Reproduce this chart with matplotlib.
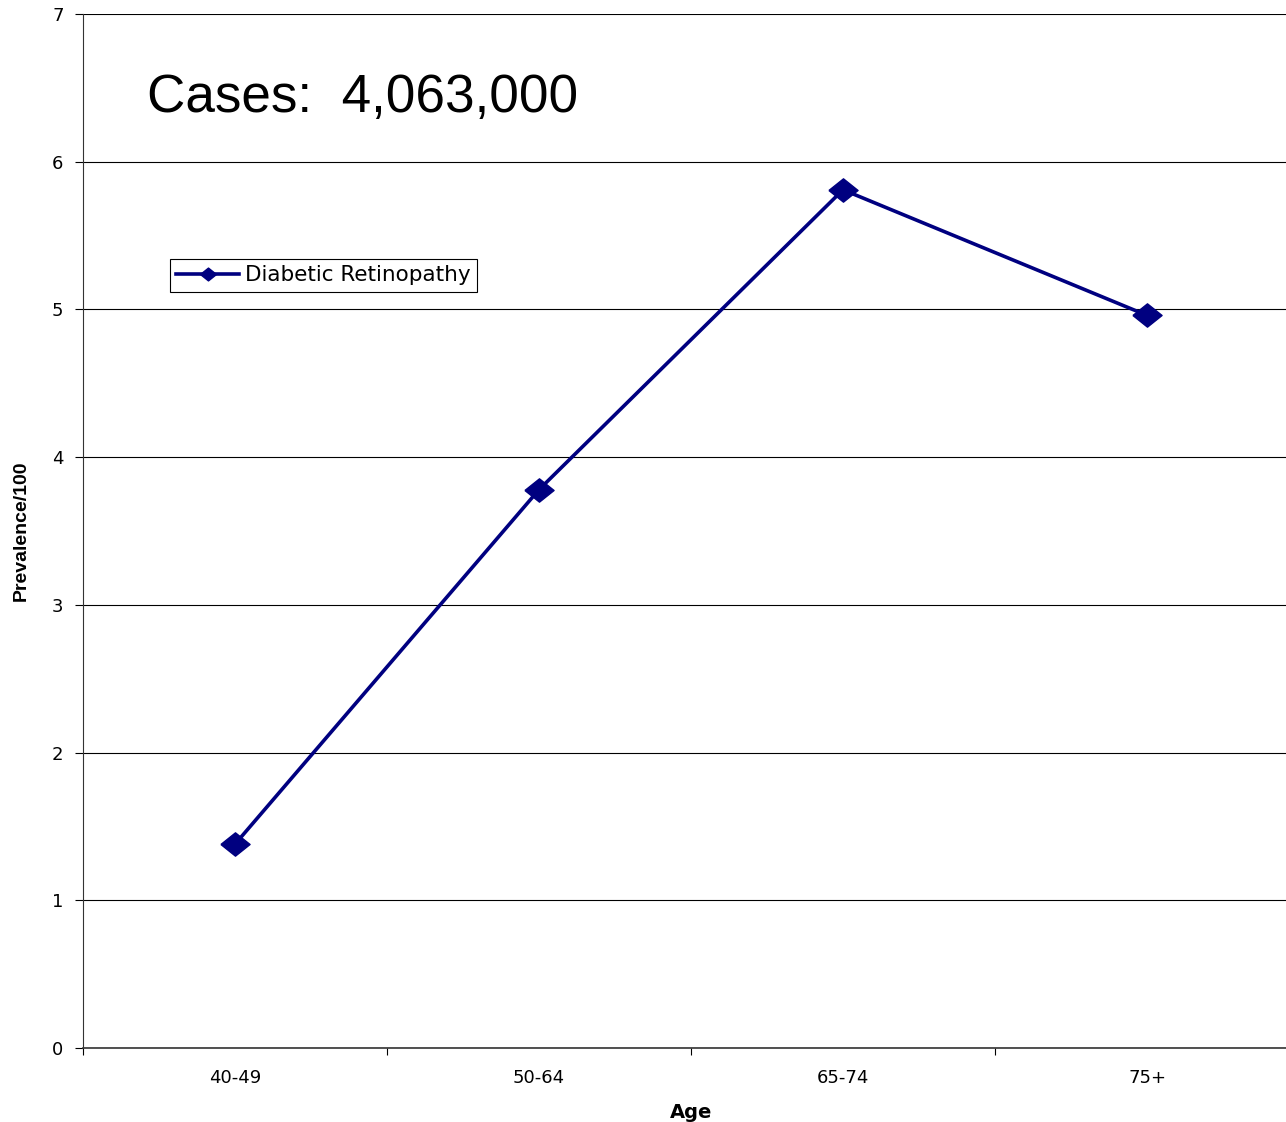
import numpy as np
import matplotlib.pyplot as plt

plt.rcParams['font.family'] = ['DejaVu Sans']

# prevalence per 100 by age group
age_groups = ['40-49', '50-64', '65-74', '75+']
prevalence = [1.38, 3.78, 5.81, 4.96]
total_cases = '4,063,000'

navy = '#000080'
# slightly flattened diamond, like the spreadsheet marker
diamond = [(-1.0, 0.0), (0.0, 0.8), (1.0, 0.0), (0.0, -0.8), (-1.0, 0.0)]

fig = plt.figure(figsize=(12.86, 11.22), dpi=100)
ax = fig.add_axes([83 / 1286, 74 / 1122, 1216 / 1286, 1034 / 1122])

x = np.arange(len(age_groups))
ax.plot(x, prevalence, color=navy, lw=2.6, marker=diamond, ms=21,
        mfc=navy, mec=navy, label='Diabetic Retinopathy', zorder=3)

ax.set_xlim(-0.5, len(age_groups) - 0.5)
ax.set_ylim(0, 7)
ax.set_yticks(range(0, 8))
ax.yaxis.grid(True, color='black', lw=0.8)
ax.set_axisbelow(True)

# category labels centred, tick marks between categories
ax.set_xticks(np.arange(-0.5, len(age_groups), 1.0))
ax.set_xticklabels([])
ax.set_xticks(x, minor=True)
ax.set_xticklabels(age_groups, minor=True)
ax.tick_params(axis='x', which='minor', length=0, pad=15, labelsize=13)
ax.tick_params(axis='x', which='major', length=5, direction='out')
ax.tick_params(axis='y', length=6, direction='out', pad=8, labelsize=13)

for s in ['top', 'right']:
    ax.spines[s].set_visible(False)
ax.spines['left'].set_color('#333333')
ax.spines['bottom'].set_color('#333333')
ax.spines['bottom'].set_linewidth(1.2)

ax.set_xlabel('Age', fontsize=14, fontweight='bold', labelpad=12)
ax.set_ylabel('Prevalence/100', fontsize=14, fontweight='bold', labelpad=16,
              family='Liberation Sans')

fig.text(147 / 1286, 1 - 98 / 1122, 'Cases:  ' + total_cases,
         fontsize=38.2, va='center', ha='left', family='Liberation Sans')

leg = ax.legend(loc='upper left', bbox_to_anchor=(170 / 1286, 1 - 259 / 1122),
                bbox_transform=fig.transFigure, fontsize=15.5, markerscale=0.55,
                frameon=True, fancybox=False, edgecolor='black', framealpha=1,
                borderpad=0.3, handlelength=2.9, handletextpad=0.3,
                borderaxespad=0)
leg.get_frame().set_linewidth(0.8)

fig.savefig('out.png', dpi=100)
